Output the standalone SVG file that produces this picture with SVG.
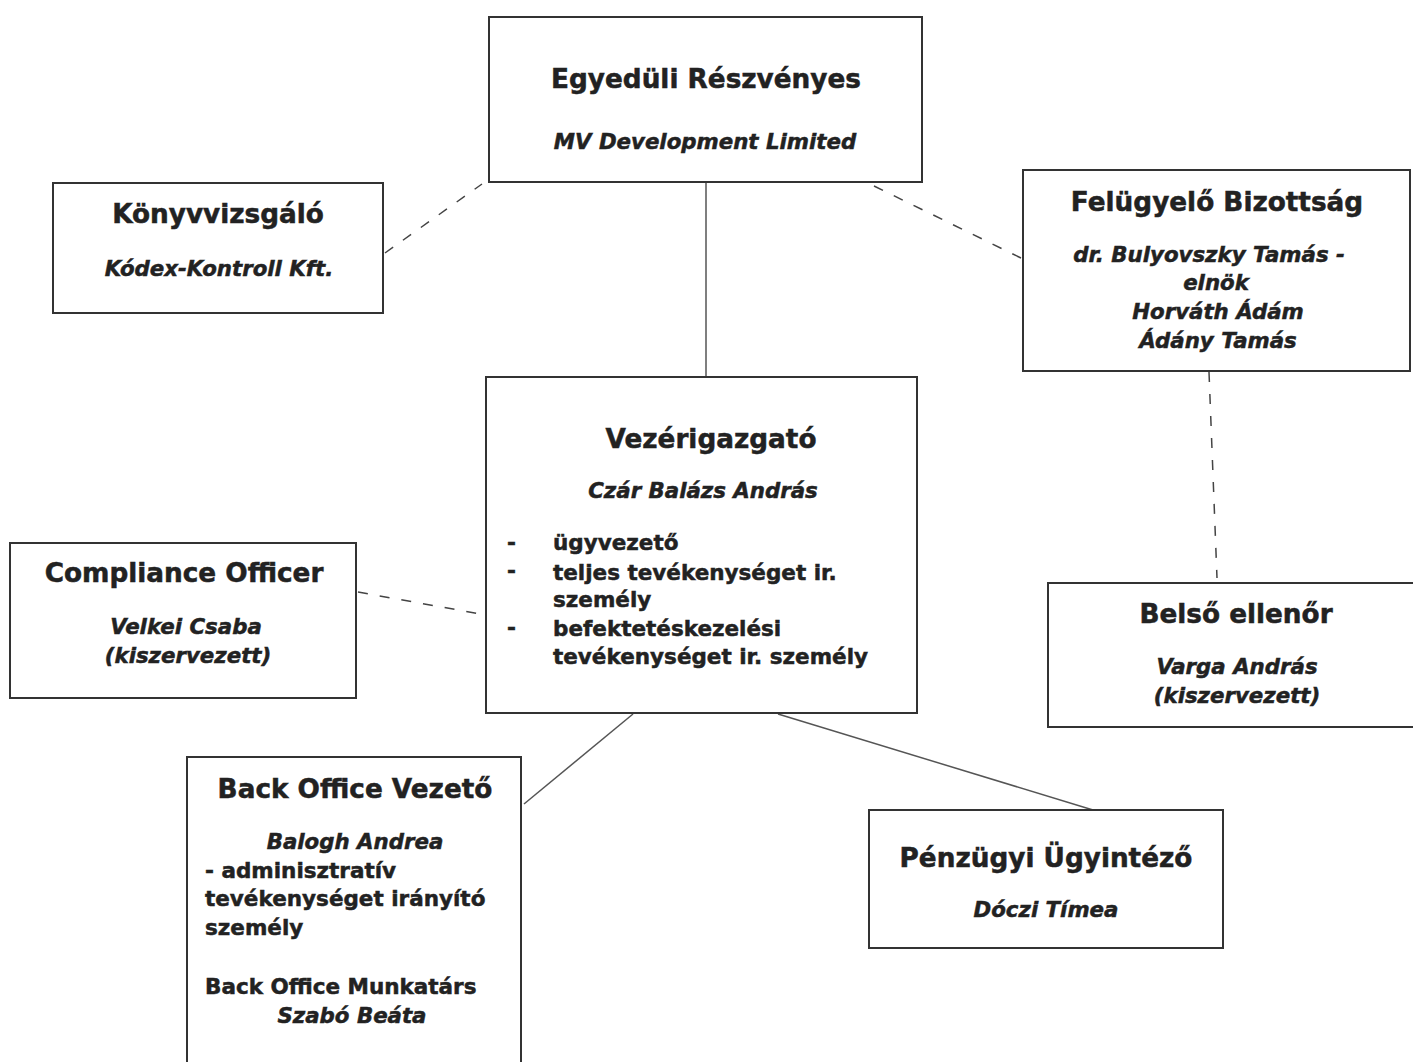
<svg xmlns="http://www.w3.org/2000/svg" width="1413" height="1062" viewBox="0 0 1413 1062">
<style>
.box{fill:#fff;stroke:#333;stroke-width:2}
.t,.i,.b{font-family:"DejaVu Sans","Liberation Sans",sans-serif;font-weight:bold;fill:#222;stroke:#222;stroke-width:0.5}
.t{font-size:26.3px;text-anchor:middle}
.i{font-style:italic;font-size:21.3px;text-anchor:middle}
.b{font-size:21.5px}
.solid{stroke:#555;stroke-width:1.5;fill:none}
.dash{stroke:#444;stroke-width:1.5;fill:none;stroke-dasharray:10 12}
</style>
<rect width="1413" height="1062" fill="#fff"/>
<g id="connectors">
<line class="solid" x1="706" y1="182" x2="706" y2="377"/>
<line class="dash" x1="385" y1="253" x2="482" y2="184"/>
<line class="dash" x1="874" y1="186" x2="1021" y2="258"/>
<line class="dash" x1="1209" y1="372" x2="1217" y2="578"/>
<line class="dash" x1="358" y1="592" x2="486" y2="615"/>
<line class="solid" x1="633" y1="714" x2="524" y2="804"/>
<line class="solid" x1="778" y1="714" x2="1093" y2="810"/>
</g>
<g id="egyeduli">
<rect class="box" x="489" y="17" width="433" height="165"/>
<text class="t" x="706" y="88">Egyedüli Részvényes</text>
<text class="i" x="705" y="149">MV Development Limited</text>
</g>
<g id="konyvvizsgalo">
<rect class="box" x="53" y="183" width="330" height="130"/>
<text class="t" x="218" y="223">Könyvvizsgáló</text>
<text class="i" x="219" y="276">Kódex-Kontroll Kft.</text>
</g>
<g id="felugyelo">
<rect class="box" x="1023" y="170" width="387" height="201"/>
<text class="t" x="1217" y="211">Felügyelő Bizottság</text>
<text class="i" x="1209" y="262">dr. Bulyovszky Tamás -</text>
<text class="i" x="1216" y="290">elnök</text>
<text class="i" x="1218" y="319">Horváth Ádám</text>
<text class="i" x="1218" y="348">Ádány Tamás</text>
</g>
<g id="vezerigazgato">
<rect class="box" x="486" y="377" width="431" height="336"/>
<text class="t" x="711" y="448">Vezérigazgató</text>
<text class="i" x="703" y="498">Czár Balázs András</text>
<text class="b" x="507" y="550">-</text>
<text class="b" x="507" y="578">-</text>
<text class="b" x="507" y="635">-</text>
<text class="b" x="553" y="550">ügyvezető</text>
<text class="b" x="553" y="580">teljes tevékenységet ir.</text>
<text class="b" x="553" y="607">személy</text>
<text class="b" x="553" y="636">befektetéskezelési</text>
<text class="b" x="553" y="664">tevékenységet ir. személy</text>
</g>
<g id="compliance">
<rect class="box" x="10" y="543" width="346" height="155"/>
<text class="t" x="184" y="582">Compliance Officer</text>
<text class="i" x="186" y="634">Velkei Csaba</text>
<text class="i" x="188" y="663">(kiszervezett)</text>
</g>
<g id="belso">
<rect class="box" x="1048" y="583" width="370" height="144"/>
<text class="t" x="1236" y="623">Belső ellenőr</text>
<text class="i" x="1237" y="674">Varga András</text>
<text class="i" x="1237" y="703">(kiszervezett)</text>
</g>
<g id="backoffice">
<rect class="box" x="187" y="757" width="334" height="320"/>
<text class="t" x="355" y="798">Back Office Vezető</text>
<text class="i" x="355" y="849">Balogh Andrea</text>
<text class="b" x="205" y="878">- adminisztratív</text>
<text class="b" x="205" y="906">tevékenységet irányító</text>
<text class="b" x="205" y="935">személy</text>
<text class="b" x="205" y="994">Back Office Munkatárs</text>
<text class="i" x="352" y="1023">Szabó Beáta</text>
</g>
<g id="penzugyi">
<rect class="box" x="869" y="810" width="354" height="138"/>
<text class="t" x="1046" y="867">Pénzügyi Ügyintéző</text>
<text class="i" x="1046" y="917">Dóczi Tímea</text>
</g>
</svg>
